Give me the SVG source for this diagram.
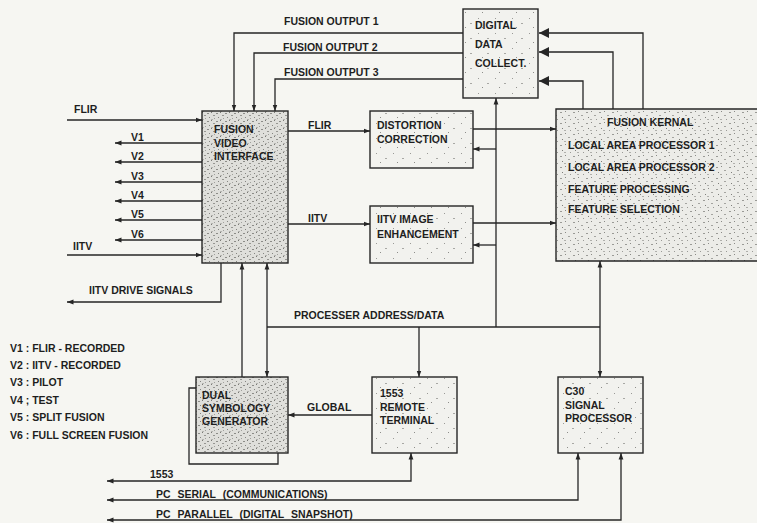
<svg xmlns="http://www.w3.org/2000/svg" width="757" height="523" viewBox="0 0 757 523">
<defs>
<style>
.bx{stroke:#262626;stroke-width:1.4;}
.t{font-family:"Liberation Sans",Arial,sans-serif;font-weight:bold;font-size:10.5px;fill:#1e1e1e;}
.c{fill:none;stroke:#262626;stroke-width:1.3;}
.s{marker-end:url(#a);}
.d{marker-start:url(#a);marker-end:url(#a);}
.L{marker-end:url(#A);}
</style>
<marker id="a" markerWidth="7" markerHeight="6" refX="6.5" refY="3" orient="auto-start-reverse" markerUnits="userSpaceOnUse"><path d="M0,0.6 L6.5,3 L0,5.4 z" fill="#262626"/></marker>
<marker id="A" markerWidth="11" markerHeight="11" refX="10" refY="5" orient="auto" markerUnits="userSpaceOnUse"><path d="M0,0 L10,5 L0,10 z" fill="#262626"/></marker>
<pattern id="sp1" width="13" height="11" patternUnits="userSpaceOnUse">
<rect width="13" height="11" fill="#ecece8"/>
<rect x="1" y="2" width="2" height="1" fill="#9a9a96"/><rect x="6" y="1" width="1" height="1" fill="#8a8a86"/><rect x="9" y="5" width="2" height="1" fill="#a4a4a0"/><rect x="3" y="7" width="1" height="1" fill="#7e7e7a"/><rect x="11" y="9" width="1" height="1" fill="#9a9a96"/><rect x="5" y="9" width="2" height="1" fill="#b0b0ac"/>
</pattern>
<pattern id="sp2" width="9" height="8" patternUnits="userSpaceOnUse">
<rect width="9" height="8" fill="#dfdfdb"/>
<rect x="0" y="1" width="2" height="1" fill="#8c8c88"/><rect x="4" y="0" width="1" height="1" fill="#7a7a76"/><rect x="6" y="3" width="2" height="1" fill="#969692"/><rect x="2" y="5" width="1" height="1" fill="#858581"/><rect x="7" y="6" width="1" height="1" fill="#a0a09c"/><rect x="4" y="7" width="2" height="1" fill="#b4b4b0"/>
</pattern>
<pattern id="sp3" width="17" height="15" patternUnits="userSpaceOnUse">
<rect width="17" height="15" fill="#f2f2ee"/>
<rect x="2" y="3" width="1" height="1" fill="#9a9a96"/><rect x="11" y="8" width="2" height="1" fill="#a8a8a4"/><rect x="6" y="12" width="1" height="1" fill="#8e8e8a"/>
</pattern>
</defs>
<rect width="757" height="523" fill="#f6f6f2"/>

<g id="connectors">
<path class="c s" d="M463,33 H234 V111"/>
<path class="c s" d="M463,53 H254 V111"/>
<path class="c s" d="M463,79 H275 V111"/>
<path class="c L" d="M643,109 V33 H539"/>
<path class="c L" d="M613,109 V52 H539"/>
<path class="c L" d="M583,109 V81 H539"/>
<path class="c s" d="M67,120 H202"/>
<path class="c s" d="M202,143 H115"/>
<path class="c s" d="M202,162 H115"/>
<path class="c s" d="M202,182 H115"/>
<path class="c s" d="M202,201 H115"/>
<path class="c s" d="M202,220 H115"/>
<path class="c s" d="M202,240 H115"/>
<path class="c s" d="M67,255 H202"/>
<path class="c s" d="M288,131 H370"/>
<path class="c s" d="M288,224 H370"/>
<path class="c s" d="M473,129 H556"/>
<path class="c s" d="M473,223 H556"/>
<path class="c s" d="M496,149 H473"/>
<path class="c s" d="M496,245 H473"/>
<path class="c s" d="M496,327 V98"/>
<path class="c" d="M267,327 H600"/>
<path class="c d" d="M267,263 V377"/>
<path class="c s" d="M242,377 V263"/>
<path class="c d" d="M600,261 V377"/>
<path class="c s" d="M419,327 V377"/>
<path class="c s" d="M372,415 H288"/>
<path class="c s" d="M221,263 V302 H67"/>
<path class="c d" d="M411,453 V481 H107"/>
<path class="c d" d="M578,453 V500 H107"/>
<path class="c d" d="M621,453 V520 H107"/>
</g>

<g id="ddc">
<rect class="bx" x="463" y="9" width="75" height="89" fill="url(#sp3)"/>
<text class="t" x="475" y="29">DIGITAL</text>
<text class="t" x="475" y="48">DATA</text>
<text class="t" x="475" y="67">COLLECT.</text>
</g>

<g id="fvi">
<rect class="bx" x="202" y="111" width="86" height="152" fill="url(#sp2)"/>
<text class="t" x="214" y="133">FUSION</text>
<text class="t" x="214" y="147">VIDEO</text>
<text class="t" x="214" y="160">INTERFACE</text>
</g>

<g id="dc">
<rect class="bx" x="370" y="111" width="103" height="57" fill="url(#sp3)"/>
<text class="t" x="377" y="129">DISTORTION</text>
<text class="t" x="377" y="143">CORRECTION</text>
</g>

<g id="iie">
<rect class="bx" x="370" y="206" width="103" height="57" fill="url(#sp3)"/>
<text class="t" x="377" y="223">IITV IMAGE</text>
<text class="t" x="377" y="238">ENHANCEMENT</text>
</g>

<g id="fk">
<path class="bx" d="M760,109 H556 V261 H760" fill="url(#sp1)"/>
<text class="t" x="607" y="126">FUSION KERNAL</text>
<text class="t" x="568" y="149">LOCAL AREA PROCESSOR 1</text>
<text class="t" x="568" y="171">LOCAL AREA PROCESSOR 2</text>
<text class="t" x="568" y="193">FEATURE PROCESSING</text>
<text class="t" x="568" y="213">FEATURE SELECTION</text>
</g>

<g id="dsg">
<path class="c" d="M196,388 H189 V464 H278 V453"/>
<rect class="bx" x="196" y="377" width="92" height="76" fill="url(#sp2)"/>
<text class="t" x="202" y="399">DUAL</text>
<text class="t" x="202" y="412">SYMBOLOGY</text>
<text class="t" x="202" y="425">GENERATOR</text>
</g>

<g id="rt">
<rect class="bx" x="372" y="377" width="85" height="76" fill="url(#sp3)"/>
<text class="t" x="380" y="397">1553</text>
<text class="t" x="380" y="411">REMOTE</text>
<text class="t" x="380" y="424">TERMINAL</text>
</g>

<g id="c30">
<rect class="bx" x="558" y="377" width="85" height="76" fill="url(#sp3)"/>
<text class="t" x="565" y="395">C30</text>
<text class="t" x="565" y="409">SIGNAL</text>
<text class="t" x="565" y="422">PROCESSOR</text>
</g>

<g id="labels">
<text class="t" x="284" y="25">FUSION OUTPUT 1</text>
<text class="t" x="283" y="51">FUSION OUTPUT 2</text>
<text class="t" x="284" y="76">FUSION OUTPUT 3</text>
<text class="t" x="74" y="113">FLIR</text>
<text class="t" x="131" y="141">V1</text>
<text class="t" x="131" y="160">V2</text>
<text class="t" x="131" y="180">V3</text>
<text class="t" x="131" y="199">V4</text>
<text class="t" x="131" y="218">V5</text>
<text class="t" x="131" y="238">V6</text>
<text class="t" x="73" y="250">IITV</text>
<text class="t" x="308" y="129">FLIR</text>
<text class="t" x="308" y="222">IITV</text>
<text class="t" x="89" y="294">IITV DRIVE SIGNALS</text>
<text class="t" x="294" y="319">PROCESSER ADDRESS/DATA</text>
<text class="t" x="307" y="411">GLOBAL</text>
<text class="t" x="150" y="478">1553</text>
<text class="t" x="156" y="498" word-spacing="4">PC SERIAL (COMMUNICATIONS)</text>
<text class="t" x="156" y="518" word-spacing="4">PC PARALLEL (DIGITAL SNAPSHOT)</text>
<text class="t" x="10" y="352">V1 : FLIR - RECORDED</text>
<text class="t" x="10" y="369">V2 : IITV - RECORDED</text>
<text class="t" x="10" y="386">V3 : PILOT</text>
<text class="t" x="10" y="404">V4 ; TEST</text>
<text class="t" x="10" y="421">V5 : SPLIT FUSION</text>
<text class="t" x="10" y="439">V6 : FULL SCREEN FUSION</text>
</g>
</svg>
